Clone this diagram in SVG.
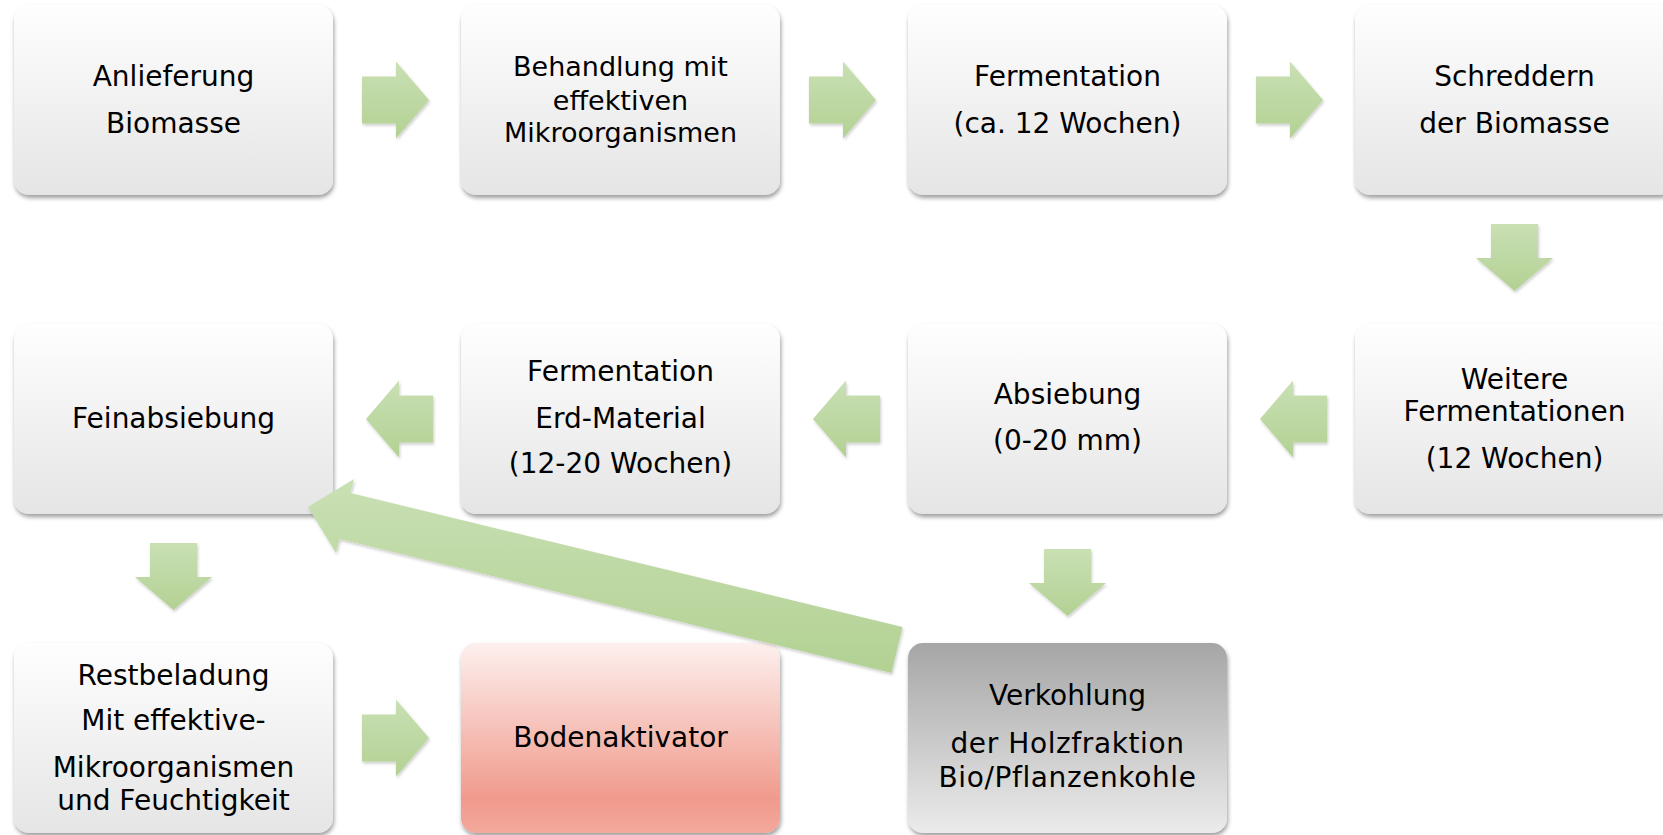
<svg xmlns="http://www.w3.org/2000/svg" width="1663" height="835" viewBox="0 0 1663 835">
<defs>
<linearGradient id="gBox" x1="0" y1="0" x2="0" y2="1">
<stop offset="0" stop-color="#fefefe"/>
<stop offset="1" stop-color="#e5e5e5"/>
</linearGradient>
<linearGradient id="gGray" x1="0" y1="0" x2="0" y2="1">
<stop offset="0" stop-color="#a6a6a6"/>
<stop offset="1" stop-color="#ebebeb"/>
</linearGradient>
<linearGradient id="gRed" x1="0" y1="0" x2="0" y2="1">
<stop offset="0" stop-color="#fdf0ee"/>
<stop offset="0.82" stop-color="#f09a8c"/>
<stop offset="1" stop-color="#f3a89c"/>
</linearGradient>
<linearGradient id="gArrow" x1="0" y1="0" x2="0" y2="1">
<stop offset="0" stop-color="#c9e0b4"/>
<stop offset="1" stop-color="#b3d193"/>
</linearGradient>
<filter id="shBox" x="-10%" y="-10%" width="120%" height="130%">
<feDropShadow dx="1" dy="3" stdDeviation="2" flood-color="#000" flood-opacity="0.38"/>
</filter>
<filter id="shArr" x="-10%" y="-10%" width="120%" height="130%">
<feDropShadow dx="1" dy="2" stdDeviation="1.5" flood-color="#000" flood-opacity="0.2"/>
</filter>
</defs>
<style>
.box{fill:url(#gBox);filter:url(#shBox)}
.arr{fill:url(#gArrow);filter:url(#shArr)}
text{font-family:"DejaVu Sans","Liberation Sans",sans-serif;font-size:28px;fill:#000;text-anchor:middle}
.sm{font-size:27px}
.ls{letter-spacing:0.6px}
</style>
<rect width="1663" height="835" fill="#ffffff"/>

<g id="n1"><rect class="box" x="14" y="5" width="319" height="190" rx="15"/>
<text x="173.5" y="86">Anlieferung</text><text x="173.5" y="133">Biomasse</text></g>
<g id="n2"><rect class="box" x="461" y="5" width="319" height="190" rx="15"/>
<text class="sm" x="620.5" y="76">Behandlung mit</text><text class="sm" x="620.5" y="110">effektiven</text><text class="sm" x="620.5" y="142">Mikroorganismen</text></g>
<g id="n3"><rect class="box" x="908" y="5" width="319" height="190" rx="15"/>
<text x="1067.5" y="86">Fermentation</text><text x="1067.5" y="133">(ca. 12 Wochen)</text></g>
<g id="n4"><rect class="box" x="1355" y="5" width="319" height="190" rx="15"/>
<text x="1514.5" y="86">Schreddern</text><text x="1514.5" y="133">der Biomasse</text></g>

<g id="n5"><rect class="box" x="1355" y="324" width="319" height="190" rx="15"/>
<text x="1514.5" y="389">Weitere</text><text x="1514.5" y="421">Fermentationen</text><text x="1514.5" y="468">(12 Wochen)</text></g>
<g id="n6"><rect class="box" x="908" y="324" width="319" height="190" rx="15"/>
<text x="1067.5" y="404">Absiebung</text><text x="1067.5" y="450">(0-20 mm)</text></g>
<g id="n7"><rect class="box" x="461" y="324" width="319" height="190" rx="15"/>
<text x="620.5" y="381">Fermentation</text><text x="620.5" y="428">Erd-Material</text><text x="620.5" y="473">(12-20 Wochen)</text></g>
<g id="n8"><rect class="box" x="14" y="324" width="319" height="190" rx="15"/>
<text x="173.5" y="428">Feinabsiebung</text></g>

<g id="n9"><rect class="box" x="14" y="643" width="319" height="190" rx="15"/>
<text x="173.5" y="685">Restbeladung</text><text x="173.5" y="730">Mit effektive-</text><text x="173.5" y="777">Mikroorganismen</text><text x="173.5" y="810">und Feuchtigkeit</text></g>
<g id="n10"><rect class="box" style="fill:url(#gRed)" x="461" y="643" width="319" height="190" rx="15"/>
<text x="620.5" y="747">Bodenaktivator</text></g>
<g id="n11"><rect class="box" style="fill:url(#gGray)" x="908" y="643" width="319" height="190" rx="15"/>
<text x="1067.5" y="705">Verkohlung</text><text class="ls" x="1067.5" y="753">der Holzfraktion</text><text class="ls" x="1067.5" y="787">Bio/Pflanzenkohle</text></g>

<g id="connectors">
<path class="arr" d="M362,76.5 H396 V61.5 L429,100 L396,138.5 V123.5 H362 Z"/>
<path class="arr" d="M809,76.5 H843 V61.5 L876,100 L843,138.5 V123.5 H809 Z"/>
<path class="arr" d="M1256,76.5 H1290 V61.5 L1323,100 L1290,138.5 V123.5 H1256 Z"/>
<path class="arr" d="M1491,224 V258 H1476 L1514.5,291 L1553,258 H1538 V224 Z"/>
<path class="arr" d="M1327,395.5 H1293 V380.5 L1260,419 L1293,457.5 V442.5 H1327 Z"/>
<path class="arr" d="M880,395.5 H846 V380.5 L813,419 L846,457.5 V442.5 H880 Z"/>
<path class="arr" d="M433,395.5 H399 V380.5 L366,419 L399,457.5 V442.5 H433 Z"/>
<path class="arr" d="M150,543 V577 H135 L173.5,610 L212,577 H197 V543 Z"/>
<path class="arr" d="M1044,549 V583 H1029 L1067.5,616 L1106,583 H1091 V549 Z"/>
<path class="arr" d="M362,714.5 H396 V699.5 L429,738 L396,776.5 V761.5 H362 Z"/>
<path class="arr" d="M902.5,627 L350.5,493 L354,479 L308,507 L336,553 L339.5,539 L891.5,673 Z"/>
</g>
</svg>
